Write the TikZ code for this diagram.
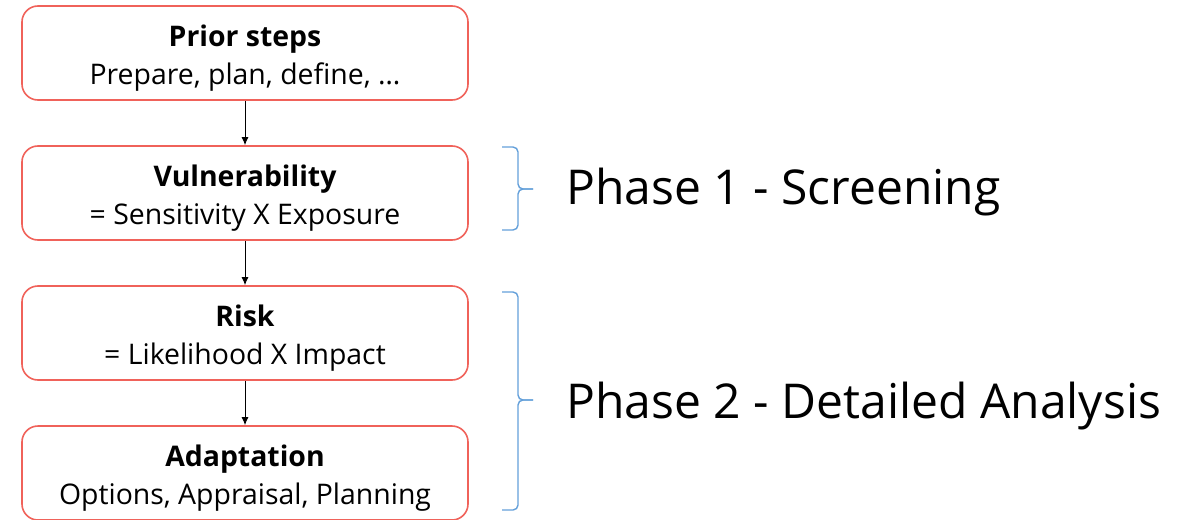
\documentclass[tikz,border=0pt]{standalone}
\usepackage{fontspec}
\setmainfont{Open Sans}
\usepackage{tikz}
\usetikzlibrary{positioning}
\usetikzlibrary{arrows.meta}
\definecolor{boxred}{RGB}{240,98,90}
\definecolor{braceblue}{RGB}{100,160,218}
\newcommand{\steptitle}[1]{\rule{0pt}{16pt}\textbf{#1}}

\begin{document}
\begin{tikzpicture}[x=0.5pt,y=-0.5pt,>={Latex[length=4pt,width=3.5pt]},node distance=70pt,
  stage/.style={draw=boxred,line width=0.8pt,rounded corners=8pt,minimum width=223pt,minimum height=47pt,
    align=center,inner sep=0pt,font=\fontsize{14.2}{19}\selectfont},
  phase/.style={anchor=west,inner sep=0pt,font=\fontsize{24}{28}\selectfont},
  bracket/.style={draw=braceblue,line width=0.7pt,rounded corners=2.5pt}]
  \useasboundingbox (0,0) rectangle (1192,519);

  \node[stage] (Prior)               at (245,53)       {\steptitle{Prior steps}\\Prepare, plan, define, \dots};
  \node[stage] (Vuln)  [below of=Prior] {\steptitle{Vulnerability}\\= Sensitivity X Exposure};
  \node[stage] (Risk)  [below of=Vuln]  {\steptitle{Risk}\\= Likelihood X Impact};
  \node[stage] (Adapt) [below of=Risk]  {\steptitle{Adaptation}\\Options, Appraisal, Planning};

  \path[->,line width=0.5pt]
     (Prior) edge (Vuln)
     (Vuln)  edge (Risk)
     (Risk)  edge (Adapt);

  % brackets grouping the steps
  \draw[bracket] (502,147) -| (518,189) -- (533,189);
  \draw[bracket] (502,230) -| (518,189) -- (533,189);
  \draw[bracket] (502,292) -| (518,400) -- (533,400);
  \draw[bracket] (502,510) -| (518,400) -- (533,400);

  \node[phase] (Screening) at (566,192) {Phase 1 - Screening};
  \node[phase] (Detailed)  at (566,406) {Phase 2 - Detailed Analysis};
\end{tikzpicture}
\end{document}
